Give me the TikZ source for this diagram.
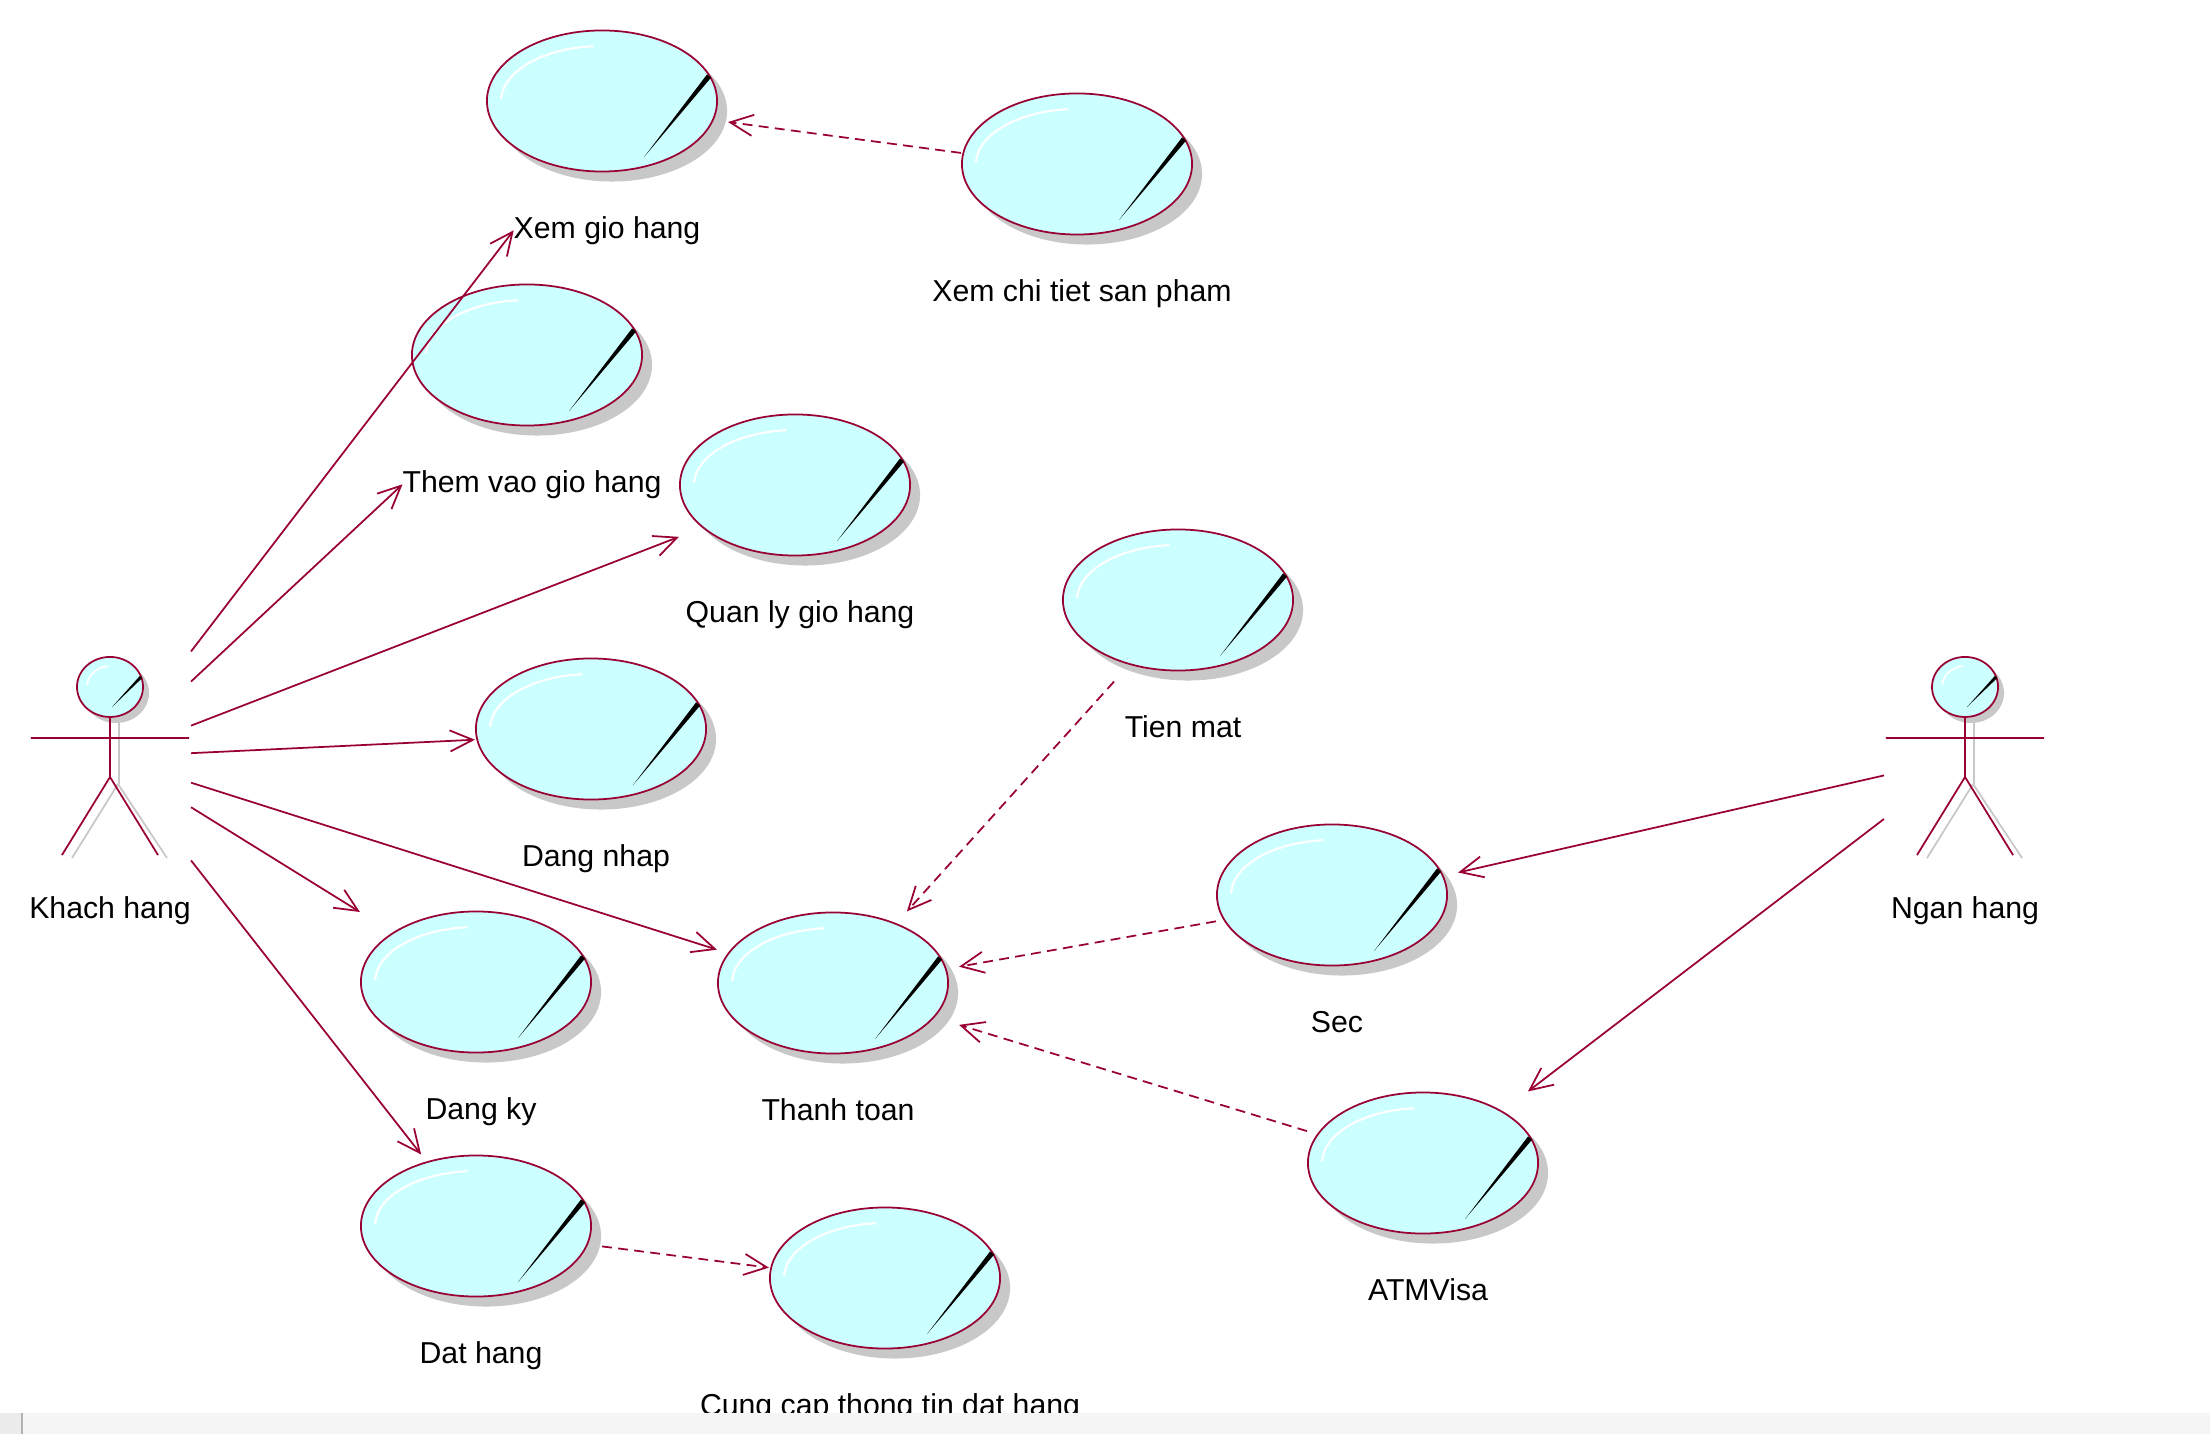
\documentclass[tikz,border=0pt]{standalone}
\usepackage{fontspec}
\setmainfont{Liberation Sans}
\usetikzlibrary{arrows.meta,positioning}
\definecolor{ucline}{HTML}{990033}
\definecolor{ucfill}{HTML}{CCFFFF}
\definecolor{ucshadow}{HTML}{C8C8C8}
\begin{document}
\begin{tikzpicture}[x=0.01cm,y=-0.01cm,
    ucase/.style={rectangle,minimum width=2.42cm,minimum height=1.53cm,inner sep=0pt,outer sep=0pt,
      path picture={
        \begin{scope}[shift={(path picture bounding box.center)},x=1cm,y=1cm]
          \fill[ucshadow] (0.05,-0.05) ellipse[x radius=1.15,y radius=0.705];
          \filldraw[fill=ucfill,draw=ucline,line width=0.5pt] (-0.05,0.05) ellipse[x radius=1.15,y radius=0.705];
          \draw[white,line width=0.6pt] (-1.059,0.069) arc[start angle=178,end angle=95,x radius=1.01,y radius=0.55];
          \fill (1.04,0.284) -- (1.0,0.316) -- (0.37,-0.51) -- cycle;
        \end{scope}}},
    actor/.style={rectangle,minimum width=1.62cm,minimum height=2.32cm,inner sep=0pt,outer sep=0pt,
      path picture={
        \begin{scope}[shift={(path picture bounding box.center)},x=1cm,y=1cm]
          \draw[ucshadow,line width=0.5pt] (0.09,0.40) -- (0.09,-0.27) (0.08,-0.27) -- (-0.38,-1.01) (0.08,-0.27) -- (0.57,-1.01);
          \fill[ucshadow] (0.06,0.64) ellipse[x radius=0.33,y radius=0.30];
          \filldraw[fill=ucfill,draw=ucline,line width=0.5pt] (0,0.70) ellipse[x radius=0.33,y radius=0.30];
          \draw[white,line width=0.5pt] (-0.229,0.718) arc[start angle=175,end angle=95,x radius=0.23,y radius=0.21];
          \fill (0.322,0.79) -- (0.298,0.81) -- (0.02,0.50) -- cycle;
          \draw[ucline,line width=0.5pt] (0,0.40) -- (0,-0.20) (-0.79,0.19) -- (0.79,0.19)
            (0,-0.20) -- (-0.48,-0.98) (0,-0.20) -- (0.48,-0.98);
        \end{scope}}},
    uclabel/.style={font=\fontsize{8.6}{10}\selectfont,text height=6.5pt,text depth=1.9pt,inner sep=0pt,outer sep=0pt},
    assoc/.style={draw=ucline,line width=0.5pt,-{Straight Barb[length=6.5pt,width=6pt]}},
    dep/.style={assoc,dash pattern=on 2.8pt off 1.8pt}]
  \useasboundingbox (0,0) rectangle (2210,1434);

  \foreach \n/\x/\y/\t in {xgh/607/106/Xem gio hang,xct/1082/169/Xem chi tiet san pham,
      them/532/360/Them vao gio hang,qly/800/490/Quan ly gio hang,tmat/1183/605/Tien mat,
      dnhap/596/734/Dang nhap,sec/1337/900/Sec,dky/481/987/Dang ky,ttoan/838/988/Thanh toan,
      atm/1428/1168/ATMVisa,dhang/481/1231/Dat hang,ccap/890/1283/Cung cap thong tin dat hang}{
    \node[ucase] (\n) at (\x,\y) {};
    \node[uclabel,below=0.33cm of \n] (l\n) {\t};
  }

  \node[actor] (khach) at (110,757) {};
  \node[uclabel,below=0.23cm of khach] (lkhach) {Khach hang};
  \node[actor] (ngan) at (1965,757) {};
  \node[uclabel,below=0.23cm of ngan] (lngan) {Ngan hang};

  \draw[assoc] (khach) -- (lxgh.west);
  \draw[assoc] (khach) -- (lthem.west);
  \foreach \t in {qly,dnhap,ttoan,dky,dhang}
    \draw[assoc] (khach) -- (\t);
  \draw[assoc] (ngan) -- (sec);
  \draw[assoc] (ngan) -- (atm);

  \draw[dep] (xct) -- (xgh);
  \foreach \s in {tmat,sec,atm}
    \draw[dep] (\s) -- (ttoan);
  \draw[dep] (dhang) -- (ccap);

  \fill[gray!8] (0,1413) rectangle (2210,1434);
  \fill[gray!15] (0,1413) rectangle (22,1434);
  \draw[gray!60] (22,1413) -- (22,1434);
\end{tikzpicture}
\end{document}
